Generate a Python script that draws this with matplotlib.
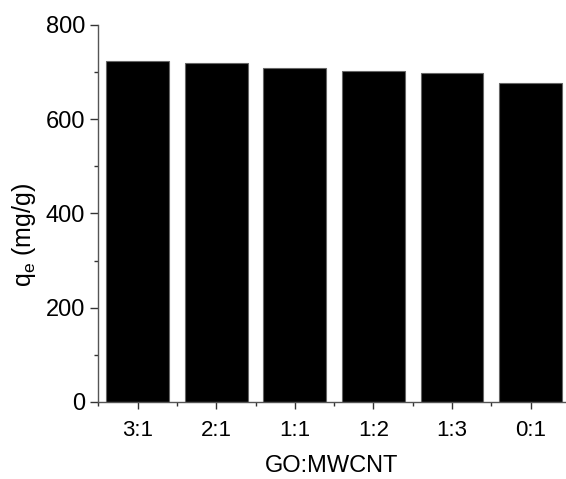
import matplotlib
matplotlib.use("Agg")
import matplotlib.pyplot as plt
from matplotlib.ticker import MultipleLocator, FixedLocator

categories = ["3:1", "2:1", "1:1", "1:2", "1:3", "0:1"]
qe_values = [723, 718, 708, 701, 697, 677]

plt.rcParams['font.family'] = ['Liberation Sans', 'DejaVu Sans']

fig = plt.figure(figsize=(5.66, 4.79), dpi=100)
ax = fig.add_axes([0.1726, 0.1608, 0.8274, 0.7876])

x = list(range(len(categories)))
ax.bar(x, qe_values, width=0.8, color='black', edgecolor='#666666', linewidth=0.8)

ax.set_xlim(-0.51, 5.45)
ax.set_ylim(0, 800)
ax.set_xticks(x)
ax.set_xticklabels(categories)
ax.xaxis.set_minor_locator(FixedLocator([i + 0.5 for i in range(-1, 6)]))
ax.yaxis.set_major_locator(MultipleLocator(200))
ax.yaxis.set_minor_locator(MultipleLocator(100))

for s in ['top', 'right']:
    ax.spines[s].set_visible(False)
for s in ['left', 'bottom']:
    ax.spines[s].set_color('#555555')
    ax.spines[s].set_linewidth(1.0)

ax.tick_params(axis='y', which='major', direction='out', length=6, width=1, color='#333333', labelsize=17, pad=3)
ax.tick_params(axis='y', which='minor', direction='out', length=3, width=1, color='#333333')
ax.tick_params(axis='x', which='major', direction='out', length=5, width=1, color='#333333', labelsize=16, pad=8)
ax.tick_params(axis='x', which='minor', direction='out', length=3, width=1, color='#333333')

ax.set_ylabel(r'q$_\mathregular{e}$ (mg/g)', fontsize=18)
ax.yaxis.set_label_coords(-0.128, 0.443)
ax.set_xlabel('GO:MWCNT', fontsize=17, labelpad=10)

fig.savefig('out.png', dpi=100)
